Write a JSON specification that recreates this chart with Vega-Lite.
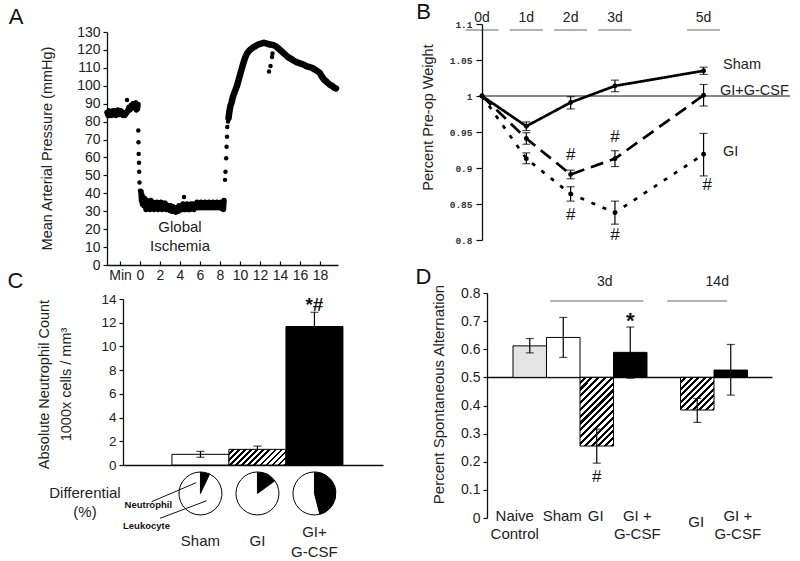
{
"$schema":"https://vega.github.io/schema/vega-lite/v6.json",
"width":800,"height":561,"autosize":{"type":"none"},"padding":0,"background":"white",
"config":{"view":{"stroke":null},"font":"Liberation Sans",
 "axis":{"grid":false,"domainColor":"#111","tickColor":"#111","labelColor":"#222","titleColor":"#222","titleFontWeight":"normal","labelFont":"Liberation Sans","titleFont":"Liberation Sans","domainWidth":1.3,"tickWidth":1.2,"labelFlush":false,"labelOverlap":false}},
"datasets":{
 "bp":[
  {"s":"pre","t":-3.3,"p":85},{"s":"pre","t":-3.2,"p":83.5},{"s":"pre","t":-3.1,"p":86},{"s":"pre","t":-3.0,"p":83.5},{"s":"pre","t":-2.9,"p":85.5},{"s":"pre","t":-2.8,"p":83.5},{"s":"pre","t":-2.7,"p":86},{"s":"pre","t":-2.6,"p":84},{"s":"pre","t":-2.5,"p":86},{"s":"pre","t":-2.4,"p":83.5},{"s":"pre","t":-2.3,"p":85},{"s":"pre","t":-2.2,"p":86.5},{"s":"pre","t":-2.1,"p":84},{"s":"pre","t":-2.0,"p":85.5},{"s":"pre","t":-1.9,"p":86},{"s":"pre","t":-1.8,"p":84.5},{"s":"pre","t":-1.7,"p":83.5},{"s":"pre","t":-1.6,"p":85},{"s":"pre","t":-1.5,"p":83.5},{"s":"pre","t":-1.4,"p":84.5},{"s":"pre","t":-1.3,"p":85},{"s":"pre","t":-1.2,"p":86.5},{"s":"pre","t":-1.1,"p":88},{"s":"pre","t":-1.0,"p":86.5},{"s":"pre","t":-0.9,"p":89},{"s":"pre","t":-0.8,"p":87.5},{"s":"pre","t":-0.7,"p":90},{"s":"pre","t":-0.6,"p":88},{"s":"pre","t":-0.5,"p":89.5},{"s":"pre","t":-0.4,"p":90.5},{"s":"pre","t":-0.35,"p":86.5},{"s":"pre","t":-0.3,"p":89},{"s":"pre","t":-0.25,"p":87},{"s":"pre","t":-0.2,"p":89.5},
  {"s":"dot","t":-1.3,"p":92},
  {"s":"dot","t":-0.17,"p":75},{"s":"dot","t":-0.15,"p":68.5},{"s":"dot","t":-0.13,"p":62},{"s":"dot","t":-0.1,"p":57},{"s":"dot","t":-0.08,"p":52},{"s":"dot","t":-0.05,"p":46},{"s":"dot","t":0.0,"p":41.5},
  {"s":"isch","t":0.1,"p":41},{"s":"isch","t":0.15,"p":36},{"s":"isch","t":0.2,"p":39},{"s":"isch","t":0.25,"p":34},{"s":"isch","t":0.3,"p":38},{"s":"isch","t":0.4,"p":33},{"s":"isch","t":0.5,"p":37},{"s":"isch","t":0.6,"p":31},{"s":"isch","t":0.7,"p":36},{"s":"isch","t":0.8,"p":32},{"s":"isch","t":0.9,"p":35},{"s":"isch","t":1.0,"p":31},{"s":"isch","t":1.1,"p":36},{"s":"isch","t":1.2,"p":32},{"s":"isch","t":1.3,"p":35},{"s":"isch","t":1.4,"p":31},{"s":"isch","t":1.5,"p":34},{"s":"isch","t":1.6,"p":32},{"s":"isch","t":1.7,"p":35},{"s":"isch","t":1.8,"p":31},{"s":"isch","t":1.9,"p":34},{"s":"isch","t":2.0,"p":32},{"s":"isch","t":2.1,"p":35},{"s":"isch","t":2.2,"p":31},{"s":"isch","t":2.3,"p":34},{"s":"isch","t":2.4,"p":32},{"s":"isch","t":2.5,"p":34.5},{"s":"isch","t":2.6,"p":31},{"s":"isch","t":2.7,"p":33.5},{"s":"isch","t":2.8,"p":31},{"s":"isch","t":2.9,"p":33},{"s":"isch","t":3.0,"p":30.5},{"s":"isch","t":3.1,"p":33},{"s":"isch","t":3.2,"p":30},{"s":"isch","t":3.3,"p":32.5},{"s":"isch","t":3.4,"p":30},{"s":"isch","t":3.5,"p":32},{"s":"isch","t":3.6,"p":29.5},{"s":"isch","t":3.7,"p":32},{"s":"isch","t":3.8,"p":30},{"s":"isch","t":3.9,"p":33},{"s":"isch","t":4.0,"p":30.5},{"s":"isch","t":4.1,"p":33},{"s":"isch","t":4.2,"p":31},{"s":"isch","t":4.3,"p":34},{"s":"isch","t":4.4,"p":31},{"s":"isch","t":4.5,"p":33.5},{"s":"isch","t":4.6,"p":31},{"s":"isch","t":4.7,"p":34},{"s":"isch","t":4.8,"p":31},{"s":"isch","t":4.9,"p":33.5},{"s":"isch","t":5.0,"p":31},{"s":"isch","t":5.1,"p":34},{"s":"isch","t":5.2,"p":31.5},{"s":"isch","t":5.3,"p":34},{"s":"isch","t":5.4,"p":31},{"s":"isch","t":5.5,"p":34},{"s":"isch","t":5.6,"p":32},{"s":"isch","t":5.7,"p":35},{"s":"isch","t":5.8,"p":32},{"s":"isch","t":5.9,"p":34.5},{"s":"isch","t":6.0,"p":32},{"s":"isch","t":6.1,"p":35},{"s":"isch","t":6.2,"p":32},{"s":"isch","t":6.3,"p":34.5},{"s":"isch","t":6.4,"p":32},{"s":"isch","t":6.5,"p":35},{"s":"isch","t":6.6,"p":32},{"s":"isch","t":6.7,"p":34.5},{"s":"isch","t":6.8,"p":32},{"s":"isch","t":6.9,"p":35},{"s":"isch","t":7.0,"p":32},{"s":"isch","t":7.1,"p":34.5},{"s":"isch","t":7.2,"p":32},{"s":"isch","t":7.3,"p":35},{"s":"isch","t":7.4,"p":32},{"s":"isch","t":7.5,"p":34.5},{"s":"isch","t":7.6,"p":32},{"s":"isch","t":7.7,"p":35},{"s":"isch","t":7.8,"p":32},{"s":"isch","t":7.9,"p":34.5},{"s":"isch","t":8.0,"p":32},{"s":"isch","t":8.1,"p":35},{"s":"isch","t":8.2,"p":31.5},{"s":"isch","t":8.3,"p":34},{"s":"isch","t":8.35,"p":31},{"s":"isch","t":8.4,"p":36},
  {"s":"dot","t":4.4,"p":38},
  {"s":"dot","t":8.5,"p":47.5},{"s":"dot","t":8.55,"p":52},{"s":"dot","t":8.62,"p":59.5},{"s":"dot","t":8.66,"p":66},{"s":"dot","t":8.7,"p":71.5},{"s":"dot","t":8.73,"p":77},{"s":"dot","t":8.8,"p":80},
  {"s":"post","t":8.85,"p":82},{"s":"post","t":8.95,"p":86},{"s":"post","t":9.05,"p":89},{"s":"post","t":9.15,"p":90.5},{"s":"post","t":9.3,"p":94},{"s":"post","t":9.5,"p":97},{"s":"post","t":9.7,"p":100},{"s":"post","t":9.9,"p":104},{"s":"post","t":10.1,"p":108},{"s":"post","t":10.3,"p":112},{"s":"post","t":10.5,"p":115.5},{"s":"post","t":10.7,"p":118},{"s":"post","t":10.9,"p":119.5},{"s":"post","t":11.2,"p":121},{"s":"post","t":11.5,"p":122},{"s":"post","t":11.8,"p":123},{"s":"post","t":12.1,"p":123.5},{"s":"post","t":12.4,"p":124},{"s":"post","t":12.7,"p":123.5},{"s":"post","t":13.0,"p":123},{"s":"post","t":13.3,"p":122.8},{"s":"post","t":13.6,"p":122},{"s":"post","t":13.9,"p":120.5},{"s":"post","t":14.2,"p":119},{"s":"post","t":14.5,"p":117.5},{"s":"post","t":14.8,"p":116},{"s":"post","t":15.1,"p":115},{"s":"post","t":15.4,"p":114},{"s":"post","t":15.7,"p":113},{"s":"post","t":16.0,"p":112.5},{"s":"post","t":16.3,"p":112},{"s":"post","t":16.6,"p":111},{"s":"post","t":16.9,"p":110.5},{"s":"post","t":17.2,"p":110},{"s":"post","t":17.5,"p":109},{"s":"post","t":17.8,"p":108},{"s":"post","t":18.0,"p":107},{"s":"post","t":18.2,"p":105},{"s":"post","t":18.4,"p":103.5},{"s":"post","t":18.6,"p":102.5},{"s":"post","t":18.8,"p":101.5},{"s":"post","t":19.0,"p":100.5},{"s":"post","t":19.2,"p":100},{"s":"post","t":19.4,"p":99},{"s":"post","t":19.6,"p":98.5},
  {"s":"dot","t":12.9,"p":108},{"s":"dot","t":13.05,"p":111},{"s":"dot","t":13.2,"p":116},{"s":"dot","t":13.25,"p":118}
 ],
 "bw":[
  {"s":"Sham","d":0,"v":1.0,"lo":1.0,"hi":1.0},{"s":"Sham","d":1,"v":0.958,"lo":0.952,"hi":0.964},{"s":"Sham","d":2,"v":0.991,"lo":0.982,"hi":0.999},{"s":"Sham","d":3,"v":1.014,"lo":1.006,"hi":1.022},{"s":"Sham","d":5,"v":1.035,"lo":1.03,"hi":1.04},
  {"s":"GI+G-CSF","d":0,"v":1.0,"lo":1.0,"hi":1.0},{"s":"GI+G-CSF","d":1,"v":0.941,"lo":0.933,"hi":0.949},{"s":"GI+G-CSF","d":2,"v":0.891,"lo":0.885,"hi":0.897},{"s":"GI+G-CSF","d":3,"v":0.913,"lo":0.902,"hi":0.924},{"s":"GI+G-CSF","d":5,"v":1.001,"lo":0.986,"hi":1.016},
  {"s":"GI","d":0,"v":1.0,"lo":1.0,"hi":1.0},{"s":"GI","d":1,"v":0.913,"lo":0.906,"hi":0.921},{"s":"GI","d":2,"v":0.864,"lo":0.854,"hi":0.874},{"s":"GI","d":3,"v":0.838,"lo":0.822,"hi":0.854},{"s":"GI","d":5,"v":0.919,"lo":0.889,"hi":0.948}
 ],
 "bhash":[{"d":2,"v":0.918},{"d":2,"v":0.835},{"d":3,"v":0.943},{"d":3,"v":0.807},{"d":5.08,"v":0.876}],
 "bdays":[{"d":0,"lab":"0d","ty":1.1083,"uy":1.0917},{"d":1,"lab":"1d","ty":1.1083,"uy":1.0917},{"d":2,"lab":"2d","ty":1.1083,"uy":1.0917},{"d":3,"lab":"3d","ty":1.1083,"uy":1.0917},{"d":5,"lab":"5d","ty":1.1083,"uy":1.0917}],
 "blab":[{"s":"Sham","d":5.44,"v":1.043},{"s":"GI+G-CSF","d":5.37,"v":1.007},{"s":"GI","d":5.44,"v":0.922}],
 "cbar":[{"g":"Sham","v":0.9,"base":0,"lo":0.65,"hi":1.15},{"g":"GI","v":1.32,"base":0,"lo":1.32,"hi":1.6},{"g":"GI+G-CSF","v":11.68,"base":0,"lo":10.5,"hi":12.88}],
 "cpie":[{"g":"Sham","cell":"Neutrophil","pct":7,"py":-2.4},{"g":"Sham","cell":"Leukocyte","pct":93,"py":-2.4},{"g":"GI","cell":"Neutrophil","pct":15,"py":-2.4},{"g":"GI","cell":"Leukocyte","pct":85,"py":-2.4},{"g":"GI+G-CSF","cell":"Neutrophil","pct":46,"py":-2.4},{"g":"GI+G-CSF","cell":"Leukocyte","pct":54,"py":-2.4}],
 "clab":[{"g":"Sham","txt":"Sham","py":-6.45},{"g":"GI","txt":"GI","py":-6.45},{"g":"GI+G-CSF","txt":"GI+\nG-CSF","py":-5.65}],
 "dbar":[{"cat":"Naive Control","v":0.612,"base":0.5,"lo":0.587,"hi":0.638},{"cat":"Sham","v":0.642,"base":0.5,"lo":0.571,"hi":0.713},{"cat":"GI 3d","v":0.256,"base":0.5,"lo":0.195,"hi":0.316},{"cat":"GI + G-CSF 3d","v":0.589,"base":0.5,"lo":0.497,"hi":0.679},{"cat":"GI 14d","v":0.384,"base":0.5,"lo":0.34,"hi":0.425},{"cat":"GI + G-CSF 14d","v":0.526,"base":0.5,"lo":0.437,"hi":0.617}],
 "dlab":[{"cat":"Naive Control","txt":"Naive\nControl","py":0.033},{"cat":"Sham","txt":"Sham","py":0.033},{"cat":"GI 3d","txt":"GI","py":0.033},{"cat":"GI + G-CSF 3d","txt":"GI +\nG-CSF","py":0.033},{"cat":"GI 14d","txt":"GI","py":0.0117},{"cat":"GI + G-CSF 14d","txt":"GI +\nG-CSF","py":0.033}]
},
"resolve":{"scale":{"x":"independent","y":"independent","strokeDash":"independent","color":"independent"},"axis":{"x":"independent","y":"independent"}},
"layer":[
 {
  "data":{"name":"bp"},
  "layer":[
   {"transform":[{"filter":"datum.s == 'pre' || datum.s == 'isch'"}],
    "mark":{"type":"line","color":"black","strokeCap":"round","strokeJoin":"round","strokeWidth":5.5},
    "encoding":{
     "x":{"field":"t","type":"quantitative","scale":{"domain":[-3.3,19.8],"range":[107,338],"nice":false,"zero":false},
          "axis":{"orient":"bottom","offset":-296,"values":[-2,0,2,4,6,8,10,12,14,16,18],"labelExpr":"datum.value == -2 ? 'Min' : datum.label","tickSize":-4,"labelPadding":7,"labelFontSize":14,"title":null}},
     "y":{"field":"p","type":"quantitative","scale":{"domain":[0,130],"range":[265,32],"nice":false,"zero":false},
          "axis":{"orient":"left","offset":-107,"values":[0,10,20,30,40,50,60,70,80,90,100,110,120,130],"tickSize":4,"labelPadding":3,"labelFontSize":14,"title":"Mean Arterial Pressure (mmHg)","titleFontSize":14.5,"titleX":-60,"titleY":148,"titleAngle":-90,"titleBaseline":"middle","titleAlign":"center"}},
     "detail":{"field":"s","type":"nominal"}
    }},
   {"transform":[{"filter":"datum.s == 'post'"}],
    "mark":{"type":"line","color":"black","strokeCap":"round","strokeJoin":"round","strokeWidth":6.5},
    "encoding":{"x":{"field":"t","type":"quantitative"},"y":{"field":"p","type":"quantitative"}}},
   {"mark":{"type":"circle","color":"black","size":20,"opacity":1},
    "encoding":{"x":{"field":"t","type":"quantitative"},"y":{"field":"p","type":"quantitative"}}},
   {"data":{"values":[{"txt":"Global\nIschemia","t":4,"p":21.2},{"txt":"Differential\n(%)","t":-5.5,"p":-127.2}]},
    "mark":{"type":"text","lineBreak":"\n","lineHeight":19,"fontSize":15,"align":"center","baseline":"middle","color":"#222"},
    "encoding":{"x":{"field":"t","type":"quantitative"},"y":{"field":"p","type":"quantitative"},"text":{"field":"txt"}}},
   {"data":{"values":[{"txt":"A","t":-12.4,"p":138.1},{"txt":"C","t":-12.45,"p":-9.2}]},
    "mark":{"type":"text","fontSize":22,"align":"center","baseline":"middle","color":"#111"},
    "encoding":{"x":{"field":"t","type":"quantitative"},"y":{"field":"p","type":"quantitative"},"text":{"field":"txt"}}}
  ]
 },
 {
  "data":{"name":"bw"},
  "layer":[
   {"data":{"values":[{"d":0,"d2":6.95,"v":1}]},
    "mark":{"type":"rule","color":"#111","strokeWidth":1.2},
    "encoding":{"x":{"field":"d","type":"quantitative","scale":{"domain":[0,6.95],"range":[482,790],"nice":false,"zero":false},"axis":{"orient":"bottom","domain":false,"ticks":false,"labels":false,"title":null}},"x2":{"field":"d2"},"y":{"field":"v","type":"quantitative","scale":{"domain":[0.8,1.1],"range":[240,24],"nice":false,"zero":false},
          "axis":{"orient":"left","offset":-482,"values":[0.8,0.85,0.9,0.95,1,1.05,1.1],"format":"~g","tickSize":6,"labelPadding":4,"labelFont":"Liberation Mono","labelFontSize":9.5,"labelFontWeight":"bold","labelColor":"#333","title":"Percent Pre-op Weight","titleFontSize":14.5,"titleX":-54,"titleY":117,"titleAngle":-90,"titleBaseline":"middle","titleAlign":"center"}}}},
   {"mark":{"type":"line","color":"black","strokeWidth":2.7},
    "encoding":{
     "x":{"field":"d","type":"quantitative"},
     "y":{"field":"v","type":"quantitative"},
     "strokeDash":{"field":"s","type":"nominal","scale":{"domain":["Sham","GI+G-CSF","GI"],"range":[[1,0],[13,7],[4,8]]},"legend":null}
    }},
   {"transform":[{"filter":"datum.d > 0"}],
    "mark":{"type":"rule","color":"black","strokeWidth":1.2},
    "encoding":{"x":{"field":"d","type":"quantitative"},"y":{"field":"lo","type":"quantitative"},"y2":{"field":"hi"}}},
   {"transform":[{"filter":"datum.d > 0"}],
    "mark":{"type":"tick","color":"black","orient":"horizontal","size":8,"thickness":1.2},
    "encoding":{"x":{"field":"d","type":"quantitative"},"y":{"field":"lo","type":"quantitative"}}},
   {"transform":[{"filter":"datum.d > 0"}],
    "mark":{"type":"tick","color":"black","orient":"horizontal","size":8,"thickness":1.2},
    "encoding":{"x":{"field":"d","type":"quantitative"},"y":{"field":"hi","type":"quantitative"}}},
   {"mark":{"type":"circle","color":"black","size":24,"opacity":1},
    "encoding":{"x":{"field":"d","type":"quantitative"},"y":{"field":"v","type":"quantitative"}}},
   {"data":{"name":"bhash"},
    "mark":{"type":"text","fontSize":17,"align":"center","baseline":"middle","color":"#111","text":"#"},
    "encoding":{"x":{"field":"d","type":"quantitative"},"y":{"field":"v","type":"quantitative"}}},
   {"data":{"name":"bdays"},
    "mark":{"type":"text","fontSize":14,"align":"center","baseline":"middle","color":"#222"},
    "encoding":{"x":{"field":"d","type":"quantitative"},"y":{"field":"ty","type":"quantitative"},"text":{"field":"lab"}}},
   {"data":{"name":"bdays"},
    "mark":{"type":"tick","color":"#222","orient":"horizontal","size":33,"thickness":1},
    "encoding":{"x":{"field":"d","type":"quantitative"},"y":{"field":"uy","type":"quantitative"}}},
   {"data":{"name":"blab"},
    "mark":{"type":"text","fontSize":14.5,"align":"left","baseline":"middle","color":"#222"},
    "encoding":{"x":{"field":"d","type":"quantitative"},"y":{"field":"v","type":"quantitative"},"text":{"field":"s"}}},
   {"data":{"values":[{"txt":"B","d":-1.32,"v":1.1167},{"txt":"D","d":-1.32,"v":0.7486}]},
    "mark":{"type":"text","fontSize":22,"align":"center","baseline":"middle","color":"#111"},
    "encoding":{"x":{"field":"d","type":"quantitative"},"y":{"field":"v","type":"quantitative"},"text":{"field":"txt"}}}
  ]
 },
 {
  "data":{"name":"cbar"},
  "layer":[
   {"transform":[{"filter":"datum.g == 'Sham'"}],
    "mark":{"type":"bar","fill":"white","stroke":"black","strokeWidth":1},
    "encoding":{
     "x":{"field":"g","type":"nominal","scale":{"domain":["Sham","GI","GI+G-CSF"],"range":[123,383],"paddingInner":0,"paddingOuter":0.7807,"align":0.55},
          "axis":{"orient":"bottom","offset":-96,"ticks":false,"labels":false,"title":null,"domain":true}},
     "y":{"field":"v","type":"quantitative","scale":{"domain":[0,14],"range":[465,299],"nice":false,"zero":false},
          "axis":{"orient":"left","offset":-123,"values":[0,2,4,6,8,10,12,14],"tickSize":4,"labelPadding":3,"labelFontSize":13.5,"title":["Absolute Neutrophil Count","1000x cells / mm³"],"titleFontSize":14.5,"titleLineHeight":22,"titleX":-79,"titleY":384,"titleAngle":-90,"titleBaseline":"middle","titleAlign":"center"}},
     "y2":{"field":"base"}
    }},
   {"transform":[{"filter":"datum.g == 'GI'"}],
    "mark":{"type":"bar","stroke":"black","strokeWidth":1,
     "fill":{"gradient":"linear","x1":0,"y1":0,"x2":1.186,"y2":0.327,"stops":[
      {"offset":0,"color":"white"},{"offset":0.0458,"color":"white"},{"offset":0.0458,"color":"black"},{"offset":0.0833,"color":"black"},
      {"offset":0.0833,"color":"white"},{"offset":0.1292,"color":"white"},{"offset":0.1292,"color":"black"},{"offset":0.1667,"color":"black"},
      {"offset":0.1667,"color":"white"},{"offset":0.2125,"color":"white"},{"offset":0.2125,"color":"black"},{"offset":0.25,"color":"black"},
      {"offset":0.25,"color":"white"},{"offset":0.2958,"color":"white"},{"offset":0.2958,"color":"black"},{"offset":0.3333,"color":"black"},
      {"offset":0.3333,"color":"white"},{"offset":0.3792,"color":"white"},{"offset":0.3792,"color":"black"},{"offset":0.4167,"color":"black"},
      {"offset":0.4167,"color":"white"},{"offset":0.4625,"color":"white"},{"offset":0.4625,"color":"black"},{"offset":0.5,"color":"black"},
      {"offset":0.5,"color":"white"},{"offset":0.5458,"color":"white"},{"offset":0.5458,"color":"black"},{"offset":0.5833,"color":"black"},
      {"offset":0.5833,"color":"white"},{"offset":0.6292,"color":"white"},{"offset":0.6292,"color":"black"},{"offset":0.6667,"color":"black"},
      {"offset":0.6667,"color":"white"},{"offset":0.7125,"color":"white"},{"offset":0.7125,"color":"black"},{"offset":0.75,"color":"black"},
      {"offset":0.75,"color":"white"},{"offset":0.7958,"color":"white"},{"offset":0.7958,"color":"black"},{"offset":0.8333,"color":"black"},
      {"offset":0.8333,"color":"white"},{"offset":0.8792,"color":"white"},{"offset":0.8792,"color":"black"},{"offset":0.9167,"color":"black"},
      {"offset":0.9167,"color":"white"},{"offset":0.9625,"color":"white"},{"offset":0.9625,"color":"black"},{"offset":1,"color":"black"}]}},
    "encoding":{"x":{"field":"g","type":"nominal"},"y":{"field":"v","type":"quantitative"},"y2":{"field":"base"}}},
   {"transform":[{"filter":"datum.g == 'GI+G-CSF'"}],
    "mark":{"type":"bar","fill":"black","stroke":"black","strokeWidth":1},
    "encoding":{"x":{"field":"g","type":"nominal"},"y":{"field":"v","type":"quantitative"},"y2":{"field":"base"}}},
   {"mark":{"type":"rule","color":"black","strokeWidth":1.2},
    "encoding":{"x":{"field":"g","type":"nominal"},"y":{"field":"lo","type":"quantitative"},"y2":{"field":"hi"}}},
   {"transform":[{"filter":"datum.g == 'Sham'"}],
    "mark":{"type":"tick","color":"black","orient":"horizontal","size":8,"thickness":1.2},
    "encoding":{"x":{"field":"g","type":"nominal"},"y":{"field":"lo","type":"quantitative"}}},
   {"mark":{"type":"tick","color":"black","orient":"horizontal","size":8,"thickness":1.2},
    "encoding":{"x":{"field":"g","type":"nominal"},"y":{"field":"hi","type":"quantitative"}}},
   {"data":{"name":"cpie"},
    "transform":[{"stack":"pct","groupby":["g"],"sort":[{"field":"cell","order":"descending"}],"as":["a0","a1"]}],
    "mark":{"type":"arc","radius":21.5,"stroke":"black","strokeWidth":1},
    "encoding":{
     "x":{"field":"g","type":"nominal"},
     "y":{"field":"py","type":"quantitative","stack":null},
     "theta":{"field":"a0","type":"quantitative","stack":null,"scale":{"domain":[0,100],"range":[0,6.2832]}},
     "theta2":{"field":"a1"},
     "color":{"field":"cell","type":"nominal","scale":{"domain":["Neutrophil","Leukocyte"],"range":["black","white"]},"legend":null}
    }},
   {"data":{"name":"clab"},
    "mark":{"type":"text","lineBreak":"\n","lineHeight":20,"fontSize":15,"align":"center","baseline":"middle","color":"#222"},
    "encoding":{"x":{"field":"g","type":"nominal"},"y":{"field":"py","type":"quantitative"},"text":{"field":"txt"}}},
   {"data":{"values":[{"g":"GI+G-CSF","txt":"*#","py":13.0}]},
    "mark":{"type":"text","fontSize":19,"fontWeight":"bold","align":"center","baseline":"alphabetic","color":"#111"},
    "encoding":{"x":{"field":"g","type":"nominal"},"y":{"field":"py","type":"quantitative"},"text":{"field":"txt"}}}
  ]
 },
 {
  "data":{"name":"dbar"},
  "layer":[
   {"transform":[{"filter":"datum.cat == 'Naive Control'"}],
    "mark":{"type":"bar","fill":"#e4e4e4","stroke":"black","strokeWidth":1},
    "encoding":{
     "x":{"field":"cat","type":"nominal","scale":{"domain":["Naive Control","Sham","GI 3d","GI + G-CSF 3d","gap","GI 14d","GI + G-CSF 14d"],"range":[487,772],"paddingInner":0,"paddingOuter":0.754,"align":0.515},
          "axis":{"orient":"bottom","offset":-184,"ticks":false,"labels":false,"title":null,"domain":true}},
     "y":{"field":"v","type":"quantitative","scale":{"domain":[0,0.8],"range":[518,293],"nice":false,"zero":false},
          "axis":{"orient":"left","offset":-487,"values":[0,0.1,0.2,0.3,0.4,0.5,0.6,0.7,0.8],"format":"~g","tickSize":4,"labelPadding":3,"labelFontSize":14,"title":"Percent Spontaneous Alternation","titleFontSize":15,"titleX":-49,"titleY":394,"titleAngle":-90,"titleBaseline":"middle","titleAlign":"center"}},
     "y2":{"field":"base"}
    }},
   {"transform":[{"filter":"datum.cat == 'Sham'"}],
    "mark":{"type":"bar","fill":"white","stroke":"black","strokeWidth":1},
    "encoding":{"x":{"field":"cat","type":"nominal"},"y":{"field":"v","type":"quantitative"},"y2":{"field":"base"}}},
   {"transform":[{"filter":"datum.cat == 'GI 3d'"}],
    "mark":{"type":"bar","stroke":"black","strokeWidth":1,
     "fill":{"gradient":"linear","x1":0,"y1":0,"x2":0.587,"y2":1.202,"stops":[
      {"offset":0,"color":"white"},{"offset":0.0367,"color":"white"},{"offset":0.0367,"color":"black"},{"offset":0.0667,"color":"black"},
      {"offset":0.0667,"color":"white"},{"offset":0.1033,"color":"white"},{"offset":0.1033,"color":"black"},{"offset":0.1333,"color":"black"},
      {"offset":0.1333,"color":"white"},{"offset":0.17,"color":"white"},{"offset":0.17,"color":"black"},{"offset":0.2,"color":"black"},
      {"offset":0.2,"color":"white"},{"offset":0.2367,"color":"white"},{"offset":0.2367,"color":"black"},{"offset":0.2667,"color":"black"},
      {"offset":0.2667,"color":"white"},{"offset":0.3033,"color":"white"},{"offset":0.3033,"color":"black"},{"offset":0.3333,"color":"black"},
      {"offset":0.3333,"color":"white"},{"offset":0.37,"color":"white"},{"offset":0.37,"color":"black"},{"offset":0.4,"color":"black"},
      {"offset":0.4,"color":"white"},{"offset":0.4367,"color":"white"},{"offset":0.4367,"color":"black"},{"offset":0.4667,"color":"black"},
      {"offset":0.4667,"color":"white"},{"offset":0.5033,"color":"white"},{"offset":0.5033,"color":"black"},{"offset":0.5333,"color":"black"},
      {"offset":0.5333,"color":"white"},{"offset":0.57,"color":"white"},{"offset":0.57,"color":"black"},{"offset":0.6,"color":"black"},
      {"offset":0.6,"color":"white"},{"offset":0.6367,"color":"white"},{"offset":0.6367,"color":"black"},{"offset":0.6667,"color":"black"},
      {"offset":0.6667,"color":"white"},{"offset":0.7033,"color":"white"},{"offset":0.7033,"color":"black"},{"offset":0.7333,"color":"black"},
      {"offset":0.7333,"color":"white"},{"offset":0.77,"color":"white"},{"offset":0.77,"color":"black"},{"offset":0.8,"color":"black"},
      {"offset":0.8,"color":"white"},{"offset":0.8367,"color":"white"},{"offset":0.8367,"color":"black"},{"offset":0.8667,"color":"black"},
      {"offset":0.8667,"color":"white"},{"offset":0.9033,"color":"white"},{"offset":0.9033,"color":"black"},{"offset":0.9333,"color":"black"},
      {"offset":0.9333,"color":"white"},{"offset":0.97,"color":"white"},{"offset":0.97,"color":"black"},{"offset":1,"color":"black"}]}},
    "encoding":{"x":{"field":"cat","type":"nominal"},"y":{"field":"v","type":"quantitative"},"y2":{"field":"base"}}},
   {"transform":[{"filter":"datum.cat == 'GI 14d'"}],
    "mark":{"type":"bar","stroke":"black","strokeWidth":1,
     "fill":{"gradient":"linear","x1":0,"y1":0,"x2":1.013,"y2":0.986,"stops":[
      {"offset":0,"color":"white"},{"offset":0.055,"color":"white"},{"offset":0.055,"color":"black"},{"offset":0.1,"color":"black"},
      {"offset":0.1,"color":"white"},{"offset":0.155,"color":"white"},{"offset":0.155,"color":"black"},{"offset":0.2,"color":"black"},
      {"offset":0.2,"color":"white"},{"offset":0.255,"color":"white"},{"offset":0.255,"color":"black"},{"offset":0.3,"color":"black"},
      {"offset":0.3,"color":"white"},{"offset":0.355,"color":"white"},{"offset":0.355,"color":"black"},{"offset":0.4,"color":"black"},
      {"offset":0.4,"color":"white"},{"offset":0.455,"color":"white"},{"offset":0.455,"color":"black"},{"offset":0.5,"color":"black"},
      {"offset":0.5,"color":"white"},{"offset":0.555,"color":"white"},{"offset":0.555,"color":"black"},{"offset":0.6,"color":"black"},
      {"offset":0.6,"color":"white"},{"offset":0.655,"color":"white"},{"offset":0.655,"color":"black"},{"offset":0.7,"color":"black"},
      {"offset":0.7,"color":"white"},{"offset":0.755,"color":"white"},{"offset":0.755,"color":"black"},{"offset":0.8,"color":"black"},
      {"offset":0.8,"color":"white"},{"offset":0.855,"color":"white"},{"offset":0.855,"color":"black"},{"offset":0.9,"color":"black"},
      {"offset":0.9,"color":"white"},{"offset":0.955,"color":"white"},{"offset":0.955,"color":"black"},{"offset":1,"color":"black"}]}},
    "encoding":{"x":{"field":"cat","type":"nominal"},"y":{"field":"v","type":"quantitative"},"y2":{"field":"base"}}},
   {"transform":[{"filter":"indexof(datum.cat, 'G-CSF') >= 0"}],
    "mark":{"type":"bar","fill":"black","stroke":"black","strokeWidth":1},
    "encoding":{"x":{"field":"cat","type":"nominal"},"y":{"field":"v","type":"quantitative"},"y2":{"field":"base"}}},
   {"mark":{"type":"rule","color":"black","strokeWidth":1.2},
    "encoding":{"x":{"field":"cat","type":"nominal"},"y":{"field":"lo","type":"quantitative"},"y2":{"field":"hi"}}},
   {"mark":{"type":"tick","color":"black","orient":"horizontal","size":8,"thickness":1.2},
    "encoding":{"x":{"field":"cat","type":"nominal"},"y":{"field":"lo","type":"quantitative"}}},
   {"mark":{"type":"tick","color":"black","orient":"horizontal","size":8,"thickness":1.2},
    "encoding":{"x":{"field":"cat","type":"nominal"},"y":{"field":"hi","type":"quantitative"}}},
   {"data":{"name":"dlab"},"transform":[{"filter":"datum.cat == 'Naive Control'"}],
    "mark":{"type":"text","lineBreak":"\n","lineHeight":18,"fontSize":15,"align":"center","baseline":"top","dx":-15,"color":"#222"},
    "encoding":{"x":{"field":"cat","type":"nominal"},"y":{"field":"py","type":"quantitative"},"text":{"field":"txt"}}},
   {"data":{"name":"dlab"},"transform":[{"filter":"datum.cat == 'Sham' || datum.cat == 'GI 3d' || datum.cat == 'GI 14d'"}],
    "mark":{"type":"text","lineBreak":"\n","lineHeight":18,"fontSize":15,"align":"center","baseline":"top","dx":-1,"color":"#222"},
    "encoding":{"x":{"field":"cat","type":"nominal"},"y":{"field":"py","type":"quantitative"},"text":{"field":"txt"}}},
   {"data":{"name":"dlab"},"transform":[{"filter":"indexof(datum.cat, 'G-CSF') >= 0"}],
    "mark":{"type":"text","lineBreak":"\n","lineHeight":18,"fontSize":15,"align":"center","baseline":"top","dx":7,"color":"#222"},
    "encoding":{"x":{"field":"cat","type":"nominal"},"y":{"field":"py","type":"quantitative"},"text":{"field":"txt"}}},
   {"data":{"values":[{"cat":"GI 3d","txt":"3d","py":0.839}]},
    "mark":{"type":"text","fontSize":14,"align":"center","baseline":"middle","dx":8,"color":"#222"},
    "encoding":{"x":{"field":"cat","type":"nominal"},"y":{"field":"py","type":"quantitative"},"text":{"field":"txt"}}},
   {"data":{"values":[{"cat":"GI 14d","txt":"14d","py":0.839}]},
    "mark":{"type":"text","fontSize":14,"align":"center","baseline":"middle","dx":20,"color":"#222"},
    "encoding":{"x":{"field":"cat","type":"nominal"},"y":{"field":"py","type":"quantitative"},"text":{"field":"txt"}}},
   {"data":{"values":[{"cat":"GI 3d","py":0.7716}]},
    "mark":{"type":"tick","color":"#222","orient":"horizontal","size":93,"thickness":1},
    "encoding":{"x":{"field":"cat","type":"nominal","bandPosition":0.64},"y":{"field":"py","type":"quantitative"}}},
   {"data":{"values":[{"cat":"GI 14d","py":0.7716}]},
    "mark":{"type":"tick","color":"#222","orient":"horizontal","size":60,"thickness":1},
    "encoding":{"x":{"field":"cat","type":"nominal","bandPosition":0.94},"y":{"field":"py","type":"quantitative"}}},
   {"data":{"values":[{"cat":"GI + G-CSF 3d","txt":"*","py":0.677}]},
    "mark":{"type":"text","fontSize":22,"fontWeight":"bold","align":"center","baseline":"alphabetic","color":"#111"},
    "encoding":{"x":{"field":"cat","type":"nominal"},"y":{"field":"py","type":"quantitative"},"text":{"field":"txt"}}},
   {"data":{"values":[{"cat":"GI 3d","txt":"#","py":0.146}]},
    "mark":{"type":"text","fontSize":17,"align":"center","baseline":"middle","color":"#111"},
    "encoding":{"x":{"field":"cat","type":"nominal"},"y":{"field":"py","type":"quantitative"},"text":{"field":"txt"}}}
  ]
 },
 {
  "layer":[
   {"data":{"values":[{"id":"n","ax":0.431,"ay":0.472},{"id":"n","ax":0.8,"ay":0.788},{"id":"l","ax":0.5,"ay":0.195},{"id":"l","ax":0.889,"ay":0.488}]},
    "mark":{"type":"line","color":"#111","strokeWidth":1},
    "encoding":{"x":{"field":"ax","type":"quantitative","scale":{"domain":[0,1],"range":[100,220],"nice":false,"zero":false},"axis":null},"y":{"field":"ay","type":"quantitative","scale":{"domain":[0,1],"range":[530,470],"nice":false,"zero":false},"axis":null},"detail":{"field":"id","type":"nominal"}}},
   {"data":{"values":[{"txt":"Neutrophil","ax":0.4025,"ay":0.4167},{"txt":"Leukocyte","ax":0.3875,"ay":0.0667}]},
    "mark":{"type":"text","fontSize":9.5,"fontWeight":"bold","align":"center","baseline":"middle","color":"#111"},
    "encoding":{"x":{"field":"ax","type":"quantitative","axis":null},"y":{"field":"ay","type":"quantitative","axis":null},"text":{"field":"txt"}}}
  ]
 }
]
}
